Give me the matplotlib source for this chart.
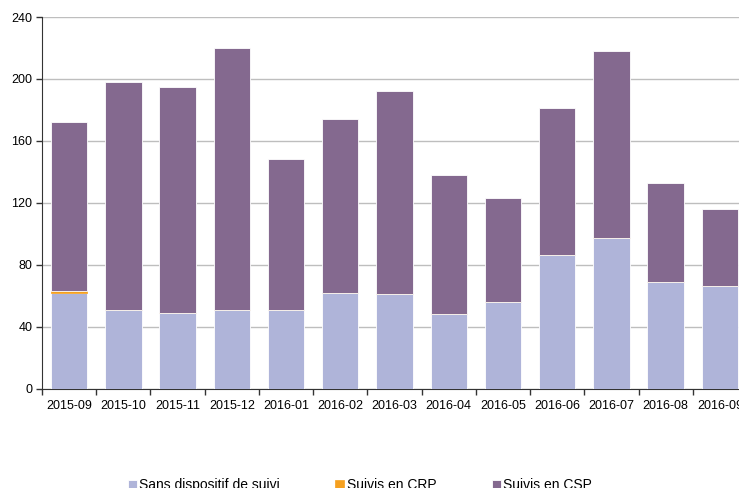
import numpy as np
import matplotlib.pyplot as plt
from matplotlib.ticker import FixedLocator

plt.rcParams['font.family'] = ['Liberation Sans', 'DejaVu Sans']

# valeurs
mois = ["2015-09", "2015-10", "2015-11", "2015-12", "2016-01", "2016-02", "2016-03",
        "2016-04", "2016-05", "2016-06", "2016-07", "2016-08", "2016-09"]
sans_suivi = [62, 51, 49, 51, 51, 62, 61, 48, 56, 86, 97, 69, 66]
suivis_crp = [1, 0, 0, 0, 0, 0, 0, 0, 0, 0, 0, 0, 0]
suivis_csp = [109, 147, 146, 169, 97, 112, 131, 90, 67, 95, 121, 64, 50]

c_sans = "#AFB4D9"
c_crp = "#F5A01F"
c_csp = "#84698F"

fig = plt.figure(figsize=(7.39, 4.88), dpi=100)
ax = fig.add_axes([42 / 739, 1 - 388.5 / 488, 705 / 739, 371.5 / 488])

x = np.arange(len(mois))
w = 0.67
b1 = np.array(sans_suivi)
b2 = b1 + np.array(suivis_crp)
ax.bar(x, sans_suivi, w, color=c_sans, edgecolor="white", linewidth=0.6,
       label="Sans dispositif de suivi", zorder=3)
ax.bar(x, suivis_crp, w, bottom=b1, color=c_crp, edgecolor=c_crp, linewidth=0.5,
       label="Suivis en CRP", zorder=3)
ax.bar(x, suivis_csp, w, bottom=b2, color=c_csp, edgecolor="white", linewidth=0.6,
       label="Suivis en CSP", zorder=3)

ax.set_xlim(-0.5, len(mois) - 0.5)
ax.set_ylim(0, 240)
ax.set_yticks(np.arange(0, 241, 40))
ax.yaxis.grid(True, color="#BEBEBE", linewidth=1.0, zorder=0)

ax.set_xticks(x)
ax.set_xticklabels(mois, fontsize=9)
ax.tick_params(axis="x", which="major", length=0, pad=8)
ax.xaxis.set_minor_locator(FixedLocator(np.arange(-0.5, len(mois), 1)))
ax.tick_params(axis="x", which="minor", length=4, width=1, color="#333333", direction="out")
ax.tick_params(axis="y", labelsize=9, length=4, width=1, color="#333333", pad=3)

for s in ["top", "right"]:
    ax.spines[s].set_visible(False)
ax.spines["left"].set_color("#333333")
ax.spines["bottom"].set_color("#333333")

handles, labels = ax.get_legend_handles_labels()
fig.legend(handles, labels, loc="center", bbox_to_anchor=(0.487, 0.006), ncol=3,
           frameon=False, fontsize=10, handlelength=0.65, handleheight=0.65,
           handletextpad=0.15, columnspacing=4.0)

plt.savefig("out.png", dpi=100)
